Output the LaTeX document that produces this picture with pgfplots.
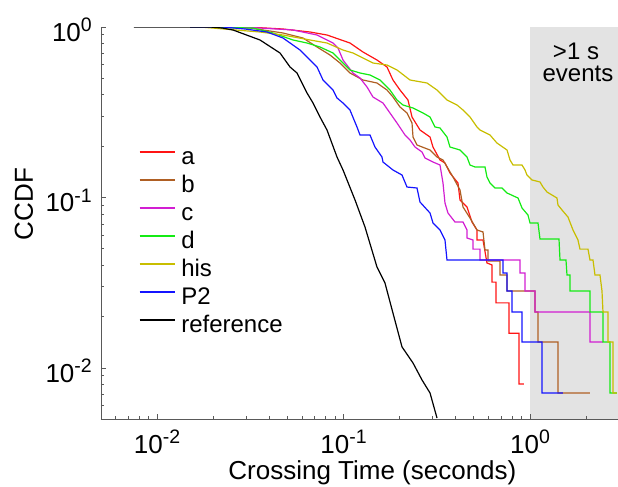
\documentclass[border=0pt]{standalone}
\usepackage{pgfplots}
\pgfplotsset{compat=1.18}
\usepackage{fontspec}
\setmainfont{Liberation Sans}
\definecolor{cA}{RGB}{255,20,20}
\definecolor{cB}{RGB}{175,95,35}
\definecolor{cC}{RGB}{210,30,210}
\definecolor{cD}{RGB}{20,235,20}
\definecolor{cH}{RGB}{200,190,0}
\definecolor{cP}{RGB}{20,20,255}
\definecolor{band}{RGB}{227,227,227}
\newcommand{\pw}[1]{10\raisebox{9.5bp}{\fontsize{19.5bp}{19.5bp}\selectfont #1}}
\begin{document}
\begin{tikzpicture}
\begin{axis}[
  at={(0bp,0bp)}, anchor=south west,
  scale only axis, width=517bp, height=392bp,
  xmode=log, ymode=log,
  xmin=0.005007, xmax=2.964, ymin=0.005023, ymax=1,
  axis x line*=bottom, axis y line*=left,
  axis on top,
  axis line style={black!65, line width=0.8bp},
  tick style={black!65, line width=0.8bp},
  tick align=inside,
  major tick length=5bp, minor tick length=3bp,
  xtick={0.01,0.1,1}, xticklabels={\pw{-2},\pw{-1},\pw{0}},
  ytick={0.01,0.1,1}, yticklabels={\pw{-2},\pw{-1},\pw{0}},
  minor xtick={0.006,0.007,0.008,0.009,0.02,0.03,0.04,0.05,0.06,0.07,0.08,0.09,0.2,0.3,0.4,0.5,0.6,0.7,0.8,0.9,2,3},
  minor ytick={0.006,0.007,0.008,0.009,0.02,0.03,0.04,0.05,0.06,0.07,0.08,0.09,0.2,0.3,0.4,0.5,0.6,0.7,0.8,0.9},
  ticklabel style={font=\fontsize{26bp}{26bp}\selectfont, inner sep=0pt},
  xticklabel style={anchor=base, yshift=-34bp},
  yticklabel style={anchor=base east, xshift=-9bp, yshift=-14bp},
  xlabel={Crossing Time (seconds)},
  ylabel={CCDF},
  label style={font=\fontsize{26bp}{26bp}\selectfont, inner sep=0pt},
  xlabel style={at={([yshift=-60bp]axis description cs:0.525,0)}, anchor=base},
  ylabel style={at={([xshift=-68bp]axis description cs:0,0.548)}, anchor=base, rotate=0},
  legend style={draw=none, fill=none, at={(axis description cs:0.0735,0.6964)}, anchor=north west,
    inner sep=0pt, outer sep=0pt, row sep=0pt,
    nodes={inner sep=0pt, text height=18bp, text depth=10bp, font=\fontsize{24bp}{24bp}\selectfont},
    /tikz/every odd column/.append style={column sep=6bp}},
  legend cell align=left,
  legend image code/.code={\draw[#1, line width=1.3bp] (0bp,8bp) -- (35bp,8bp);},
  every axis plot/.append style={line width=1.2bp},
]
\addplot[draw=none, fill=band, forget plot] coordinates {(1,0.004) (3.2,0.004) (3.2,1.1) (1,1.1)} -- cycle;

% a
\addplot[cA] coordinates {
(0.01503,1) (0.03038,1) (0.04738,0.9734) (0.06614,0.9347) (0.08156,0.8976) (0.1083,0.8057)
(0.1272,0.7134) (0.1512,0.6404) (0.1711,0.5826) (0.1842,0.4888) (0.2009,0.4270) (0.2217,0.3731)
(0.2330,0.2965) (0.2571,0.2489) (0.2910,0.2263) (0.3019,0.1978) (0.3292,0.1660) (0.3501,0.1594)
(0.3724,0.1392) (0.4110,0.1216) (0.4214,0.0967) (0.4594,0.0880) (0.4887,0.0718) (0.5197,0.0645)
(0.5197,0.0563) (0.5598,0.0563) (0.5880,0.0413) (0.6255,0.0402) (0.6255,0.0319) (0.6572,0.0319)
(0.6572,0.0241) (0.7718,0.0241) (0.7718,0.0160) (0.8730,0.0160) (0.8730,0.00806) (0.9286,0.00806)
};
\addlegendentry{a}
% b
\addplot[cB] coordinates {
(0.01503,1) (0.03153,0.9866) (0.04738,0.9222) (0.06066,0.8619) (0.07211,0.7634) (0.08464,0.6851)
(0.09577,0.6150) (0.1083,0.5373) (0.1272,0.4888) (0.1512,0.4694) (0.1711,0.4270) (0.1842,0.3886)
(0.2009,0.3395) (0.2190,0.3131) (0.2330,0.2735) (0.2359,0.2263) (0.2478,0.2032) (0.2910,0.1899)
(0.3172,0.1728) (0.3416,0.1660) (0.3865,0.1319) (0.4214,0.1107) (0.4373,0.0880) (0.4768,0.0758)
(0.5197,0.0645) (0.5598,0.0628) (0.5737,0.0492) (0.5954,0.0492) (0.5954,0.0424) (0.6905,0.0424)
(0.6905,0.0351) (0.7531,0.0351) (0.7531,0.0283) (1.0637,0.0283) (1.0637,0.0213) (1.1037,0.0213)
(1.1037,0.0142) (1.4130,0.0142) (1.4130,0.00714) (2.0974,0.00714)
};
\addlegendentry{b}
% c
\addplot[cC] coordinates {
(0.01503,1) (0.02892,1) (0.05362,0.9603) (0.07211,0.8976) (0.08784,0.8057) (0.09344,0.7533)
(0.09938,0.6404) (0.1124,0.5373) (0.1226,0.5022) (0.1337,0.4446) (0.1439,0.3886) (0.1628,0.3583)
(0.1775,0.3131) (0.1936,0.2735) (0.2137,0.2326) (0.2273,0.2174) (0.2418,0.1978) (0.2636,0.1849)
(0.2735,0.1705) (0.3019,0.1615) (0.3292,0.1551) (0.3416,0.1216) (0.3501,0.0928) (0.3633,0.0811)
(0.3962,0.0718) (0.4373,0.0718) (0.4594,0.0645) (0.4594,0.0579) (0.4948,0.0563) (0.4948,0.0498)
(0.5393,0.0498) (0.5393,0.0430) (0.8839,0.0430) (0.8839,0.0361) (0.9402,0.0361) (0.9402,0.0283)
(1.0637,0.0283) (1.0637,0.0213) (2.0974,0.0213) (2.0974,0.0142) (2.4624,0.0142)
};
\addlegendentry{c}
% d
\addplot[cD] coordinates {
(0.01503,1) (0.03272,0.9866) (0.04188,0.9222) (0.05362,0.8390) (0.06373,0.8057) (0.07482,0.7634)
(0.08784,0.7039) (0.09577,0.6404) (0.1083,0.5597) (0.1226,0.5373) (0.1387,0.5230) (0.1569,0.4888)
(0.1775,0.4270) (0.1936,0.3731) (0.2085,0.3488) (0.2359,0.3349) (0.2669,0.3131) (0.2910,0.2965)
(0.3095,0.2592) (0.3292,0.2557) (0.3589,0.2263) (0.3724,0.1978) (0.4214,0.1899) (0.4594,0.1728)
(0.4768,0.1551) (0.5071,0.1510) (0.5737,0.1510) (0.5880,0.1319) (0.6102,0.1216) (0.6491,0.1137)
(0.7079,0.1137) (0.7531,0.1063) (0.8626,0.0993) (0.9060,0.0868) (0.9757,0.0789) (1.0,0.0709)
(1.1037,0.0709) (1.1315,0.0571) (1.4305,0.0571) (1.4486,0.0430) (1.5596,0.0430) (1.5791,0.0351)
(1.6387,0.0351) (1.6387,0.0283) (2.0974,0.0283) (2.0974,0.0213) (2.4624,0.0213) (2.4624,0.0142)
(2.6855,0.0142) (2.6855,0.00714) (2.9276,0.00714)
};
\addlegendentry{d}
% his
\addplot[cH] coordinates {
(0.01503,1) (0.01701,1) (0.03567,0.9347) (0.04738,0.8976) (0.06614,0.8390) (0.08156,0.8057)
(0.09938,0.7327) (0.1124,0.7039) (0.1272,0.6579) (0.1439,0.6150) (0.1711,0.5985) (0.1936,0.5597)
(0.2273,0.4888) (0.2804,0.4694) (0.3172,0.4270) (0.3589,0.3731) (0.4061,0.3488) (0.4373,0.3260)
(0.4768,0.2965) (0.5197,0.2592) (0.5393,0.2489) (0.6102,0.2326) (0.6654,0.2087) (0.7531,0.1899)
(0.7815,0.1660) (0.8108,0.1551) (0.9060,0.1551) (0.9402,0.1450) (0.9636,0.1355) (1.0249,0.1267)
(1.1315,0.1233) (1.1742,0.1152) (1.2335,0.1077) (1.3122,0.1034) (1.3956,0.0993) (1.4130,0.0904)
(1.4846,0.0845) (1.5988,0.0768) (1.7006,0.0645) (1.8087,0.0563) (1.8539,0.0498) (2.0464,0.0498)
(2.0974,0.0430) (2.1768,0.0430) (2.2311,0.0351) (2.3729,0.0351) (2.4326,0.0283) (2.4624,0.0213)
(2.6196,0.0213) (2.6196,0.0142) (2.7861,0.0142) (2.7861,0.00714) (2.9276,0.00714)
};
\addlegendentry{his}
% P2
\addplot[cP] coordinates {
(0.01503,1) (0.02259,1) (0.02964,0.9734) (0.03889,0.9347) (0.04738,0.8619) (0.05846,0.7327)
(0.07211,0.5826) (0.07765,0.4888) (0.08784,0.4270) (0.09229,0.3834) (0.09938,0.3583) (0.1083,0.3260)
(0.1181,0.2592) (0.1226,0.2326) (0.1387,0.2326) (0.1475,0.1978) (0.1608,0.1728) (0.1628,0.1615)
(0.1842,0.1450) (0.2059,0.1355) (0.2190,0.1152) (0.2478,0.1137) (0.2571,0.0941) (0.2910,0.0811)
(0.3019,0.0709) (0.3292,0.0645) (0.3501,0.0563) (0.3589,0.0430) (0.7166,0.0430) (0.7166,0.0361)
(0.7531,0.0361) (0.7531,0.0283) (0.8010,0.0283) (0.8010,0.0213) (0.9060,0.0213) (0.9060,0.0142)
(1.1596,0.0142) (1.1596,0.00714) (1.5029,0.00714)
};
\addlegendentry{P2}
% reference
\addplot[black] coordinates {
(0.007526,1) (0.01924,1) (0.02231,0.9866) (0.02556,0.9603) (0.03567,0.8390) (0.04566,0.7039)
(0.05167,0.5826) (0.05634,0.5373) (0.06373,0.4101) (0.06864,0.3583) (0.07482,0.2965) (0.08156,0.2489)
(0.09229,0.1728) (0.09938,0.1450) (0.1153,0.0967) (0.1304,0.0671) (0.1512,0.0391) (0.1669,0.0315)
(0.1842,0.0210) (0.2059,0.0133) (0.2359,0.0107) (0.2636,0.00851) (0.2910,0.00714) (0.3172,0.00509)
};
\addlegendentry{reference}

\node[anchor=base, font=\fontsize{24bp}{24bp}\selectfont, inner sep=0pt] at (axis cs:1.765,0.6491) {>1 s};
\node[anchor=base, font=\fontsize{24bp}{24bp}\selectfont, inner sep=0pt] at (axis cs:1.809,0.4759) {events};
\end{axis}
\pgfresetboundingbox
\useasboundingbox (-101bp,-68bp) rectangle (517bp,419bp);
\end{tikzpicture}
\end{document}
